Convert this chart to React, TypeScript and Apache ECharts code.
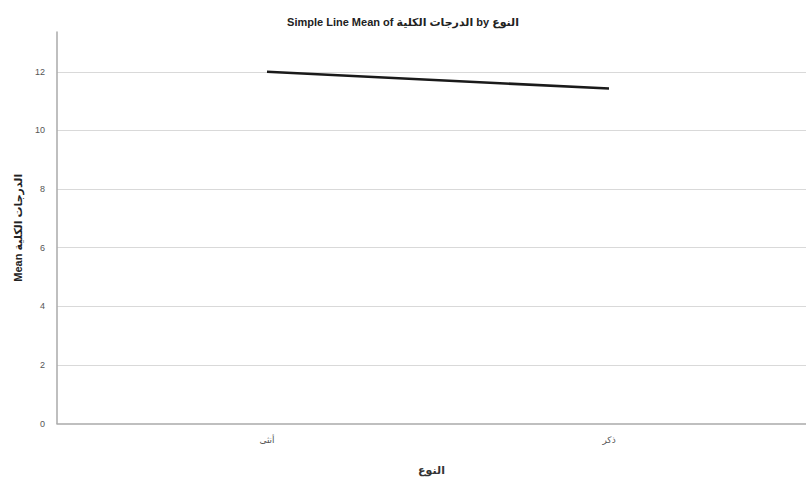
import React, { useEffect, useRef } from "react";
import * as echarts from "echarts";

const categories = ["أنثى", "ذكر"];
const meanValues = [12.0, 11.43];
const yTicks = [0, 2, 4, 6, 8, 10, 12];
const titleText = "Simple Line Mean of الدرجات الكلية by النوع";
const xAxisName = "النوع";
const yAxisName = "Mean الدرجات الكلية";

export default function App() {
  const ref = useRef<HTMLDivElement>(null);
  useEffect(() => {
    document.body.style.margin = "0";
    if (!ref.current) return;
    const chart = echarts.init(ref.current, undefined, { renderer: "svg" });
    const idx = categories.map((_, i) => i);
    chart.setOption({
      animation: false,
      backgroundColor: "#ffffff",
      textStyle: { fontFamily: "Liberation Sans, Arial, DejaVu Sans, sans-serif" },
      title: {
        text: titleText,
        left: "center",
        top: 11,
        textStyle: { fontSize: 11, fontWeight: "bold", color: "#222" },
      },
      grid: { left: 57, right: 0, top: 32, bottom: 57.5, containLabel: false },
      xAxis: {
        type: "value",
        min: -0.614,
        max: 1.576,
        name: xAxisName,
        nameLocation: "middle",
        nameGap: 41,
        nameTextStyle: { fontSize: 11, fontWeight: "bold", color: "#333" },
        axisLine: { show: true, onZero: false, lineStyle: { color: "#aaaaaa", width: 1.5 } },
        axisTick: { show: false },
        splitLine: { show: false },
        axisLabel: {
          customValues: idx,
          formatter: (v: number) => categories[Math.round(v)] ?? "",
          fontSize: 9,
          color: "#555",
          margin: 12,
        },
      },
      yAxis: {
        type: "value",
        min: 0,
        max: 13.36,
        name: yAxisName,
        nameLocation: "middle",
        nameGap: 34,
        nameRotate: 90,
        nameTextStyle: { fontSize: 11, fontWeight: "bold", color: "#222" },
        axisLine: { show: true, onZero: false, lineStyle: { color: "#aaaaaa", width: 1.5 } },
        axisTick: { show: false },
        axisLabel: { customValues: yTicks, fontSize: 9, color: "#555", margin: 12 },
        splitLine: {
          show: true,
          showMinLine: false,
          showMaxLine: false,
          lineStyle: { color: "#d9d9d9", width: 1 },
        },
        interval: 2,
      },
      series: [
        {
          type: "line",
          data: meanValues.map((v, i) => [i, v]),
          showSymbol: false,
          symbol: "none",
          lineStyle: { color: "#1a1a1a", width: 2.5 },
        },
      ],
    });
    return () => chart.dispose();
  }, []);
  return <div ref={ref} style={{ width: 806, height: 481 }} />;
}
